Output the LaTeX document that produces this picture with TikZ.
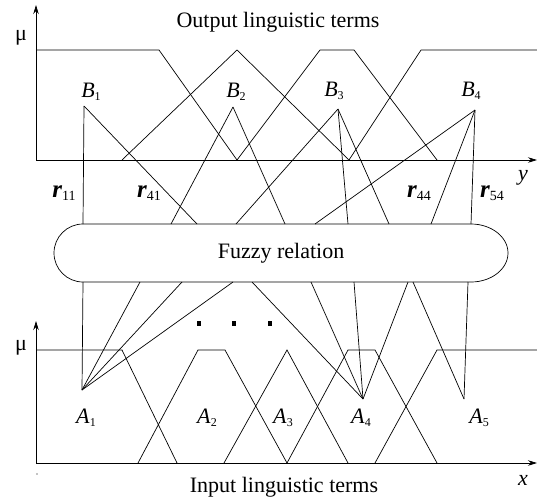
\documentclass[tikz,border=0pt]{standalone}
\usepackage{fontspec}
\setmainfont{Liberation Serif}
\usetikzlibrary{arrows.meta}
\newcommand\mylab[2]{\textit{#1}\raisebox{-3pt}{\fontsize{12}{12}\selectfont #2}}
\newcommand\myr[1]{\textbf{\textit{r}}\raisebox{-3pt}{\fontsize{14}{14}\selectfont #1}}
\begin{document}
\begin{tikzpicture}[x=1pt,y=1pt,
  line/.style={line width=0.7pt,line join=miter},
  axis/.style={line width=0.8pt,-{Stealth[length=9pt,width=5.5pt]}},
  big/.style={font=\fontsize{22}{26}\selectfont},
  lab/.style={font=\fontsize{22}{24}\selectfont,inner sep=0pt},
  rlab/.style={font=\fontsize{25}{26}\selectfont,inner sep=0pt},
  dotsq/.style={fill=black,minimum width=4pt,minimum height=5pt,inner sep=0pt}]
\useasboundingbox (0,0) rectangle (537,-503);

% ---------- axes ----------
\coordinate (o1) at (36,-160);
\coordinate (ytop) at (36,-5);
\coordinate (xr1) at (537,-160);
\coordinate (o2) at (36,-463);
\coordinate (ytop2) at (36,-321);
\coordinate (xr2) at (537,-463);
\draw[axis] (o1) -- (ytop);
\draw[axis] (o1) -- (xr1);
\draw[axis] (o2) -- (ytop2);
\draw[axis] (o2) -- (xr2);
\fill (37,-474) circle (0.7pt);

% ---------- output membership functions ----------
\draw[line] (36,-50) -- (159,-50) -- (237,-160);
\draw[line] (122,-160) -- (237,-50) -- (349,-160);
\draw[line] (237,-160) -- (320,-50) -- (354,-50) -- (437,-160);
\draw[line] (349,-160) -- (421,-50) -- (537,-50);

% ---------- input membership functions ----------
\draw[line] (36,-350) -- (122,-350) -- (177,-463);
\draw[line] (138,-463) -- (198,-350) -- (225,-350) -- (287,-463);
\draw[line] (224,-463) -- (287,-350) -- (348,-463);
\draw[line] (287,-463) -- (348,-350) -- (375,-350) -- (437,-463);
\draw[line] (375,-463) -- (437,-350) -- (537,-350);

% ---------- fuzzy relation ----------
\draw[line] (83,-224) -- (471,-224)
  arc[start angle=90,end angle=-90,x radius=37pt,y radius=29pt]
  -- (83,-282)
  arc[start angle=270,end angle=90,radius=29pt] -- cycle;
\node[big] (rel) at (281,-253) {Fuzzy relation};

% attachment points on the relation
\coordinate (t1) at (83,-224);
\coordinate (t2) at (171,-224);
\coordinate (t3) at (197,-224);
\coordinate (t4) at (236,-224);
\coordinate (t5) at (285,-224);
\coordinate (t6) at (315,-224);
\coordinate (t7) at (348,-224);
\coordinate (t8) at (389,-224);
\coordinate (t9) at (431,-224);
\coordinate (t10) at (471,-224);
\coordinate (b1) at (83,-282);
\coordinate (b2) at (140,-282);
\coordinate (b3) at (182,-282);
\coordinate (b4) at (233,-282);
\coordinate (b5) at (252,-282);
\coordinate (b6) at (311,-282);
\coordinate (b7) at (354,-282);
\coordinate (b8) at (408,-282);
\coordinate (b9) at (413,-282);
\coordinate (b10) at (468,-282);

% apex points
\coordinate (B1) at (84,-106);
\coordinate (B2) at (233,-107);
\coordinate (B3) at (338,-109);
\coordinate (B4) at (475,-110);
\coordinate (A1) at (82,-390);
\coordinate (A4) at (363,-399);
\coordinate (A5) at (464,-399);

% connectors
\draw[line] (B1) -- (t1);
\draw[line] (B1) -- (t3);
\draw[line] (B2) -- (t2);
\draw[line] (B2) -- (t5);
\draw[line] (B3) -- (t4);
\draw[line] (B3) -- (t7);
\draw[line] (B3) -- (t8);
\draw[line] (B4) -- (t6);
\draw[line] (B4) -- (t9);
\draw[line] (B4) -- (t10);
\draw[line] (A1) -- (b1);
\draw[line] (A1) -- (b2);
\draw[line] (A1) -- (b3);
\draw[line] (A1) -- (b4);
\draw[line] (A4) -- (b5);
\draw[line] (A4) -- (b6);
\draw[line] (A4) -- (b7);
\draw[line] (A4) -- (b8);
\draw[line] (A5) -- (b9);
\draw[line] (A5) -- (b10);

% dots
\node[dotsq] (d1) at (199,-323) {};
\node[dotsq] (d2) at (234,-323) {};
\node[dotsq] (d3) at (270,-323) {};

% ---------- labels ----------
\node[big] (out) at (278,-22) {Output linguistic terms};
\node[big] (in) at (284,-487) {Input linguistic terms};
\node[big] (mu1) at (21,-38) {μ};
\node[big] (mu2) at (21,-348) {μ};
\node[big] (ylab) at (523,-178) {\textit{y}};
\node[big] (xlab) at (523,-480) {\textit{x}};

\node[lab] (lB1) at (91,-92) {\mylab{B}{1}};
\node[lab] (lB2) at (236,-92) {\mylab{B}{2}};
\node[lab] (lB3) at (334,-91) {\mylab{B}{3}};
\node[lab] (lB4) at (471,-91) {\mylab{B}{4}};
\node[lab] (lA1) at (86,-418) {\mylab{A}{1}};
\node[lab] (lA2) at (207,-418) {\mylab{A}{2}};
\node[lab] (lA3) at (283,-418) {\mylab{A}{3}};
\node[lab] (lA4) at (361,-418) {\mylab{A}{4}};
\node[lab] (lA5) at (479,-418) {\mylab{A}{5}};

\node[rlab] (r11) at (64,-193) {\myr{11}};
\node[rlab] (r41) at (149,-193) {\myr{41}};
\node[rlab] (r44) at (419,-193) {\myr{44}};
\node[rlab] (r54) at (492,-193) {\myr{54}};
\end{tikzpicture}
\end{document}
